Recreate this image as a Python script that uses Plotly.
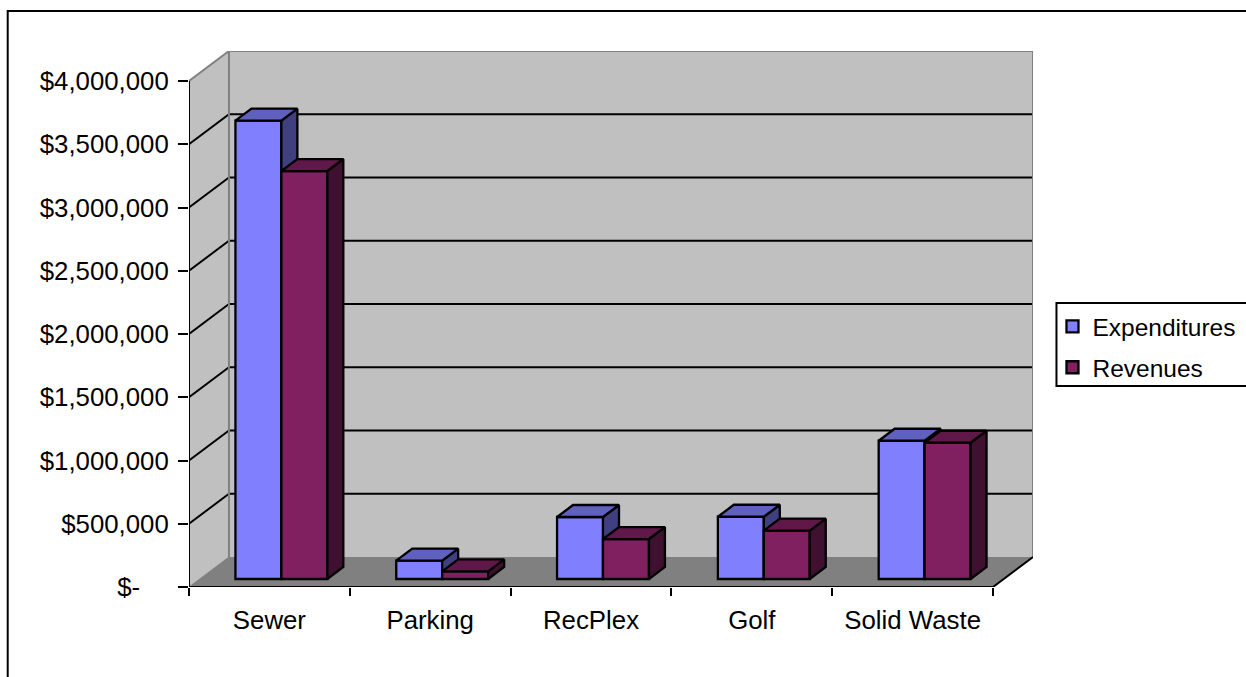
import plotly.graph_objects as go

categories = ["Sewer", "Parking", "RecPlex", "Golf", "Solid Waste"]
expenditures = [3623000, 145000, 490000, 492000, 1093000]
revenues = [3225000, 60000, 316000, 382000, 1077000]
y_ticks = [0, 500000, 1000000, 1500000, 2000000, 2500000, 3000000, 3500000, 4000000]
y_tick_labels = ["$-\u00a0\u00a0\u00a0\u00a0", "$500,000", "$1,000,000", "$1,500,000", "$2,000,000",
                 "$2,500,000", "$3,000,000", "$3,500,000", "$4,000,000"]

W, H = 1246, 677
L, R, T, B = 188.5, 1033.5, 51, 587
PX_X = 161.0          # pixels per category
PX_Y = 126.5 / 1e6    # pixels per dollar
FONT = "Liberation Sans, Arial, sans-serif"
FS = 25.8
LEGEND_FS = 24.5
EDGE = 2.3

x_max = (R - L) / PX_X
y_max = (B - T) / PX_Y
wall_dx = 40 / PX_X
wall_dy = 30 / PX_Y
bar_dx = 16 / PX_X
bar_dy = 12 / PX_Y
base = 8 / PX_Y
bar_w = 2 / 7
slot_shift = 0.5 / PX_X
n = len(categories)


def path(points):
    return "M " + " L ".join(f"{x} {y}" for x, y in points) + " Z"


def line(points, color, width):
    return [dict(type="line", xref="x", yref="y", layer="below",
                 x0=a[0], y0=a[1], x1=b[0], y1=b[1],
                 line=dict(color=color, width=width))
            for a, b in zip(points, points[1:])]


shapes = [
    # walls and floor
    dict(type="path", xref="x", yref="y", layer="below",
         path=path([(0, 0), (wall_dx, wall_dy), (wall_dx, 4e6 + wall_dy), (0, 4e6)]),
         fillcolor="#C0C0C0", line=dict(width=0)),
    dict(type="path", xref="x", yref="y", layer="below",
         path=path([(wall_dx, wall_dy), (n + wall_dx, wall_dy), (n + wall_dx, 4e6 + wall_dy), (wall_dx, 4e6 + wall_dy)]),
         fillcolor="#C0C0C0", line=dict(width=0)),
    dict(type="path", xref="x", yref="y", layer="below",
         path=path([(0, 0), (n, 0), (n + wall_dx, wall_dy), (wall_dx, wall_dy)]),
         fillcolor="#808080", line=dict(width=0)),
]
for v in y_ticks[1:-1]:
    shapes += line([(0, v), (wall_dx, v + wall_dy), (n + wall_dx, v + wall_dy)], "black", 2)
shapes += line([(0, 4e6), (wall_dx, 4e6 + wall_dy), (n + wall_dx, 4e6 + wall_dy), (n + wall_dx, wall_dy)], "#808080", 2)
shapes += line([(wall_dx, 4e6 + wall_dy), (wall_dx, wall_dy)], "#808080", 2)
shapes += line([(0, 0), (wall_dx, wall_dy)], "#808080", 1)
shapes += line([(0, 4e6), (0, 0), (n, 0), (n + wall_dx, wall_dy)], "black", 2)


def px(x):
    return (x - L) / (R - L)


def py(y):
    return (B - y) / (B - T)


# outer frame (runs off the right and bottom of the page) and legend box
shapes.append(dict(type="rect", xref="paper", yref="paper", layer="below",
                   x0=px(7), x1=px(1260), y0=py(11), y1=py(690),
                   line=dict(color="black", width=2), fillcolor="rgba(0,0,0,0)"))
shapes.append(dict(type="rect", xref="paper", yref="paper", layer="below",
                   x0=px(1057), x1=px(1260), y0=py(303), y1=py(386),
                   line=dict(color="black", width=2), fillcolor="white"))

fig = go.Figure()


def add_series(name, values, slot, front, top, side, xa, ya):
    xs = [i + slot + slot_shift for i in range(n)]
    for x, v in zip(xs, values):
        left, right = x - bar_w / 2, x + bar_w / 2
        bottom, upper = base, base + v
        fig.add_trace(go.Scatter(
            x=[right, right + bar_dx, right + bar_dx, right, right],
            y=[bottom, bottom + bar_dy, upper + bar_dy, upper, bottom],
            mode="lines", fill="toself", fillcolor=side,
            line=dict(color="black", width=EDGE), showlegend=False, hoverinfo="skip",
            xaxis=xa, yaxis=ya))
        fig.add_trace(go.Scatter(
            x=[left, right, right + bar_dx, left + bar_dx, left],
            y=[upper, upper, upper + bar_dy, upper + bar_dy, upper],
            mode="lines", fill="toself", fillcolor=top,
            line=dict(color="black", width=EDGE), showlegend=False, hoverinfo="skip",
            xaxis=xa, yaxis=ya))
    fig.add_trace(go.Bar(
        name=name, x=xs, y=values, base=[base] * n, width=bar_w, legendgroup=name,
        marker=dict(color=front, line=dict(color="black", width=EDGE)),
        xaxis=xa, yaxis=ya))


add_series("Expenditures", expenditures, 3 / 7, "#8080FF", "#6060BF", "#404080", "x", "y")
add_series("Revenues", revenues, 5 / 7, "#802060", "#601848", "#401030", "x2", "y2")

fig.update_layout(
    width=W, height=H, autosize=False,
    margin=dict(l=L, r=W - R, t=T, b=H - B, pad=0, autoexpand=False),
    paper_bgcolor="white", plot_bgcolor="rgba(0,0,0,0)",
    font=dict(family=FONT, size=FS, color="black"),
    barmode="overlay",
    shapes=shapes,
    xaxis=dict(range=[0, x_max], showgrid=False, zeroline=False, showline=False,
               tickmode="array", tickvals=[i + 0.5 for i in range(n)], ticktext=categories,
               ticks="", ticklen=0, tickangle=0,
               minor=dict(tickmode="array", tickvals=list(range(n + 1)), ticks="outside",
                          ticklen=8, tickwidth=2, tickcolor="black", showgrid=False),
               tickfont=dict(family=FONT, size=FS, color="black"), ticklabelstandoff=15),
    yaxis=dict(range=[0, y_max], showgrid=False, zeroline=False, showline=False,
               tickmode="array", tickvals=y_ticks, ticktext=y_tick_labels,
               ticks="outside", ticklen=10, tickwidth=2, tickcolor="black",
               ticklabelstandoff=4,
               tickfont=dict(family=FONT, size=FS, color="black")),
    xaxis2=dict(range=[0, x_max], overlaying="x", visible=False),
    yaxis2=dict(range=[0, y_max], overlaying="y", visible=False),
    legend=dict(x=px(1053), y=py(304), xanchor="left", yanchor="top",
                bgcolor="rgba(0,0,0,0)", borderwidth=0, traceorder="grouped",
                tracegroupgap=6, entrywidth=150, entrywidthmode="pixels",
                font=dict(family=FONT, size=LEGEND_FS, color="black")),
    showlegend=True,
)

fig.write_html("out.html", config=dict(displayModeBar=False),
               post_script="document.body.style.margin='0';document.body.style.overflow='hidden';")
